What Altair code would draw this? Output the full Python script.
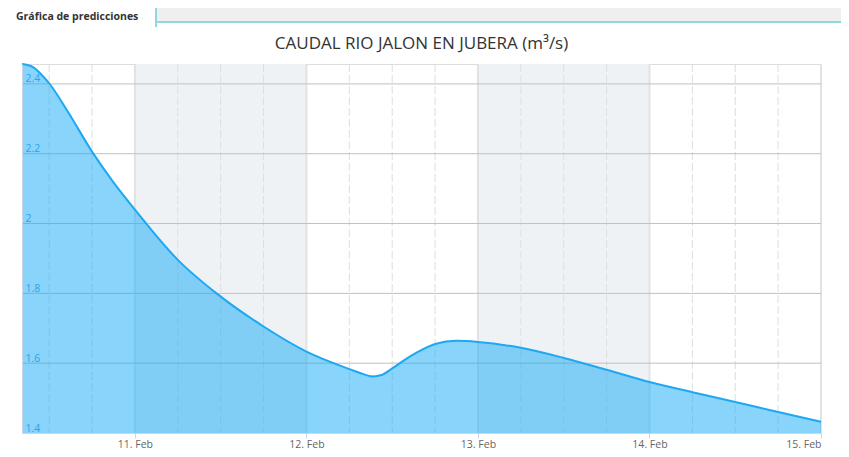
import json
import altair as alt
import pandas as pd

# ---- data (hours since 10 Feb 00:00, flow m3/s) ----
hours = [8.2, 9.0, 9.9, 10.9, 12.1, 14.6, 18, 21, 24, 30, 35.6, 42, 48, 54, 55.5,
         57.3, 58.5, 60, 61.7, 63.4, 66, 69, 72, 78, 84, 90, 96, 102, 108, 114, 120]
flow = [2.457, 2.454, 2.446, 2.427, 2.399, 2.321, 2.206, 2.118, 2.040, 1.896,
        1.797, 1.705, 1.633, 1.583, 1.572, 1.562, 1.566, 1.585, 1.609, 1.630,
        1.655, 1.664, 1.661, 1.644, 1.615, 1.581, 1.546, 1.517, 1.489, 1.460, 1.432]

day_ticks = [24, 48, 72, 96, 120]
day_labels = ["11. Feb", "12. Feb", "13. Feb", "14. Feb", "15. Feb"]
minor_ticks = [12, 18, 30, 36, 42, 54, 60, 66, 78, 84, 90, 102, 108, 114]
band_start = [24, 72]
band_end = [48, 96]
y_ticks = [1.4, 1.6, 1.8, 2.0, 2.2, 2.4]
y_grid = [1.6, 1.8, 2.0, 2.2, 2.4]

title_text = "CAUDAL RIO JALON EN JUBERA (m³/s)"
tab_text = "Gráfica de predicciones"

x_domain = [8.2, 120]
y_domain = [1.4, 2.457]

W, H = 799, 369
FONT = "Open Sans"
TEAL = "#8fd8db"

df = pd.DataFrame({"h": hours, "q": flow})
bands = pd.DataFrame({"a": band_start, "b": band_end})
minor = pd.DataFrame({"h": minor_ticks})
major = pd.DataFrame({"h": day_ticks})
hgrid = pd.DataFrame({"q": y_grid})

xs = alt.Scale(domain=x_domain, nice=False, zero=False)
ys = alt.Scale(domain=y_domain, nice=False, zero=False)

label_expr = f"{json.dumps(day_labels)}[indexof({json.dumps(day_ticks)}, datum.value)]"

x_axis = alt.Axis(values=day_ticks, labelExpr=label_expr, grid=False, title=None,
                  domainColor="#ccd6eb", tickColor="#ccd6eb", tickSize=5,
                  labelPadding=1, labelColor="#666666", labelFont=FONT,
                  labelFontSize=10.5, labelFlush=True, labelOverlap=False)
y_axis = alt.Axis(values=y_ticks, grid=False, ticks=False, tickSize=0, title=None,
                  domainColor="#ccd6eb", labelAlign="left", labelBaseline="bottom",
                  labelPadding=-3, labelColor="#2aa4ee", labelFont=FONT,
                  labelFontSize=10.5, labelFlush=False, labelOverlap=False,
                  zindex=1, format="~g")

one = alt.Data(values=[{}])

# decorative frame (tab strip above the chart)
strip = alt.Chart(one).mark_rect(color="#efefef").encode(
    x=alt.value(-30), x2=alt.value(W + 30), y=alt.value(-70), y2=alt.value(-43))
teal_line = alt.Chart(one).mark_rect(color=TEAL).encode(
    x=alt.value(-30), x2=alt.value(W + 30), y=alt.value(-43), y2=alt.value(-41))
tab = alt.Chart(one).mark_rect(color="white", stroke=TEAL, strokeWidth=2,
                               cornerRadiusTopRight=6, cornerRadiusTopLeft=6).encode(
    x=alt.value(-19), x2=alt.value(134), y=alt.value(-70), y2=alt.value(-38))
tab_cover = alt.Chart(one).mark_rect(color="white").encode(
    x=alt.value(-19), x2=alt.value(133), y=alt.value(-42), y2=alt.value(-37))
tab_label = alt.Chart(one).mark_text(
    text=tab_text, align="left", baseline="middle", font=FONT, fontSize=10.5,
    fontWeight="bold", color="#333333").encode(x=alt.value(-6), y=alt.value(-47))
title_mark = alt.Chart(one).mark_text(
    text=title_text, align="center", baseline="alphabetic", font=FONT, fontSize=17,
    color="#333333").encode(x=alt.value(W / 2), y=alt.value(-15))

band_layer = alt.Chart(bands).mark_rect(color="#eff2f5").encode(
    x=alt.X("a:Q", scale=xs, axis=x_axis), x2="b:Q")
minor_layer = alt.Chart(minor).mark_rule(color="#dedede", strokeWidth=1,
                                         strokeDash=[8, 3]).encode(
    x=alt.X("h:Q", scale=xs, axis=x_axis))
major_layer = alt.Chart(major).mark_rule(color="#e2e2e2", strokeWidth=2).encode(
    x=alt.X("h:Q", scale=xs, axis=x_axis))
hgrid_layer = alt.Chart(hgrid).mark_rule(color="#c0c0c0", strokeWidth=1).encode(
    y=alt.Y("q:Q", scale=ys, axis=y_axis))

area = alt.Chart(df).mark_area(interpolate="monotone", color="#12a9f5",
                               fillOpacity=0.5).encode(
    x=alt.X("h:Q", scale=xs, axis=x_axis),
    y=alt.Y("q:Q", scale=ys, axis=y_axis),
    y2=alt.datum(y_domain[0]),
)
line = alt.Chart(df).mark_line(interpolate="monotone", color="#1ea8f3",
                               strokeWidth=2).encode(
    x=alt.X("h:Q", scale=xs, axis=x_axis), y=alt.Y("q:Q", scale=ys, axis=y_axis))

chart = alt.layer(
    strip, teal_line, tab, tab_cover, tab_label, title_mark,
    band_layer, minor_layer, major_layer, hgrid_layer, area, line
).properties(
    width=W, height=H,
    padding={"left": 14, "top": 56, "right": 20, "bottom": 18},
    autosize=alt.AutoSizeParams(type="none"),
).configure_view(stroke=None).configure(background="white")

chart.save("out.html", embed_options={"renderer": "svg", "actions": False})
